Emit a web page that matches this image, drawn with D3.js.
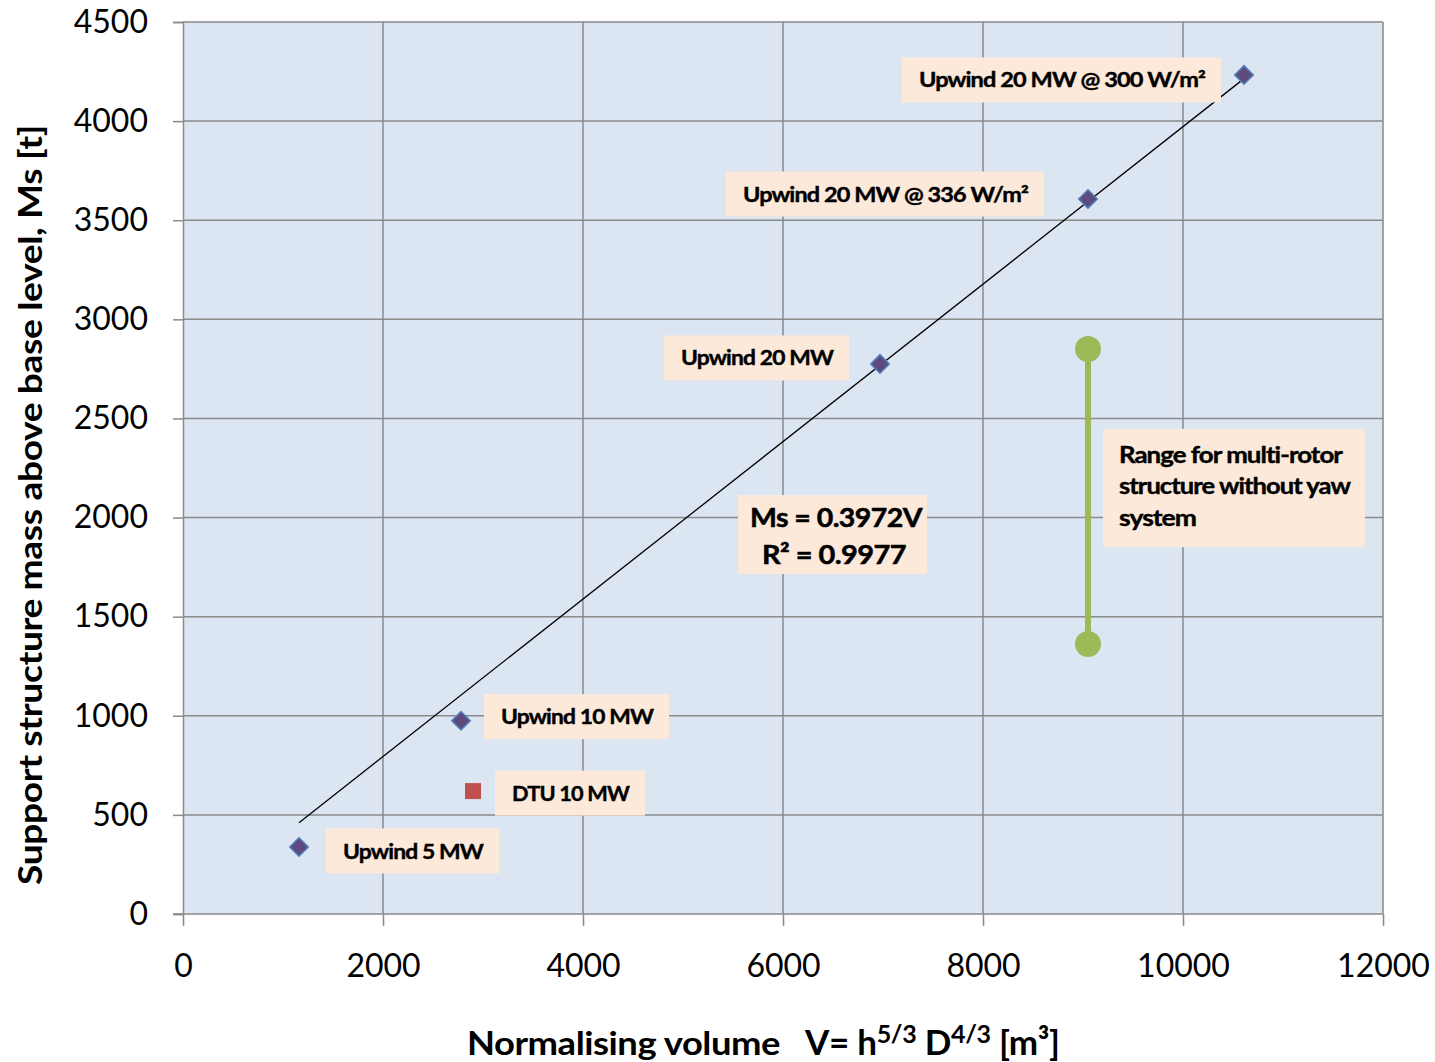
<!DOCTYPE html>
<html><head><meta charset="utf-8">
<script src="https://cdn.jsdelivr.net/npm/d3@7"></script>
<style>body{margin:0;background:#fff;} svg{display:block;font-family:Lato,"Open Sans",sans-serif;}</style>
</head><body>
<svg id="chart" width="1435" height="1062"></svg>
<script>
// ---- data ----
const upwindNames = ["Upwind 5 MW","Upwind 10 MW","Upwind 20 MW","Upwind 20 MW @ 336 W/m²","Upwind 20 MW @ 300 W/m²"];
const upwindVolume = [1160, 2780, 6970, 9050, 10610];
const upwindMass = [338, 975, 2775, 3607, 4233];
const dtuNames = ["DTU 10 MW"];
const dtuVolume = [2900];
const dtuMass = [620];
const trendSlope = 0.3972;
const trendR2 = 0.9977;
const rangeVolume = 9050;
const rangeMass = [1362, 2850];
const rangeText = ["Range for multi-rotor","structure without yaw","system"];
const xTicks = [0,2000,4000,6000,8000,10000,12000];
const yTicks = [0,500,1000,1500,2000,2500,3000,3500,4000,4500];

// ---- layout ----
const svg = d3.select("#chart");
const L=183, R=1383, T=22, B=914;
const x = d3.scaleLinear().domain([0,12000]).range([L,R]);
const y = d3.scaleLinear().domain([0,4500]).range([B,T]);
const gridCol="#8a8a8a";
const heavy = "bold";

svg.append("rect").attr("x",L).attr("y",T).attr("width",R-L).attr("height",B-T).attr("fill","#dce6f2");

// grid
svg.append("g").selectAll("line").data(xTicks.slice(1)).join("line")
  .attr("x1",d=>x(d)).attr("x2",d=>x(d)).attr("y1",T).attr("y2",B)
  .attr("stroke",gridCol).attr("stroke-width",1.5);
svg.append("g").selectAll("line").data(yTicks.slice(1)).join("line")
  .attr("x1",L).attr("x2",R).attr("y1",d=>y(d)).attr("y2",d=>y(d))
  .attr("stroke",gridCol).attr("stroke-width",1.5);

// axes
const xAxis = svg.append("g").attr("transform",`translate(0,${B})`)
  .call(d3.axisBottom(x).tickValues(xTicks).tickSize(12).tickPadding(28).tickFormat(d3.format("d")));
const yAxis = svg.append("g").attr("transform",`translate(${L},0)`)
  .call(d3.axisLeft(y).tickValues(yTicks).tickSize(10).tickPadding(25).tickFormat(d3.format("d")));
[xAxis,yAxis].forEach(a=>{
  a.select(".domain").attr("stroke",gridCol).attr("stroke-width",1.5);
  a.selectAll(".tick line").attr("stroke",gridCol).attr("stroke-width",1.5);
  a.selectAll("text").attr("fill","#000").style("font-size","32px").style("font-family","Lato");
});
xAxis.select(".domain").attr("d",`M${L-10},0H${R}`);

// trend line
const vMin = d3.min(upwindVolume), vMax = d3.max(upwindVolume);
svg.append("line").attr("x1",x(vMin)).attr("y1",y(trendSlope*vMin))
  .attr("x2",x(vMax)).attr("y2",y(trendSlope*vMax)).attr("stroke","#000").attr("stroke-width",1.3);

// range bar
svg.append("line").attr("x1",x(rangeVolume)).attr("x2",x(rangeVolume))
  .attr("y1",y(rangeMass[0])).attr("y2",y(rangeMass[1])).attr("stroke","#9bbb59").attr("stroke-width",6);
svg.append("g").selectAll("circle").data(rangeMass).join("circle")
  .attr("cx",x(rangeVolume)).attr("cy",d=>y(d)).attr("r",13).attr("fill","#9bbb59");

// markers
const upwind = upwindNames.map((n,i)=>({name:n,v:upwindVolume[i],m:upwindMass[i]}));
svg.append("g").selectAll("path").data(upwind).join("path")
  .attr("d",d3.symbol(d3.symbolDiamond2,220)())
  .attr("transform",d=>`translate(${x(d.v)},${y(d.m)})`)
  .attr("fill","#5f4a7f").attr("stroke","#4f81bd").attr("stroke-width",1.5);
const dtu = dtuNames.map((n,i)=>({name:n,v:dtuVolume[i],m:dtuMass[i]}));
svg.append("g").selectAll("rect").data(dtu).join("rect")
  .attr("x",d=>x(d.v)-8).attr("y",d=>y(d.m)-8).attr("width",16).attr("height",16)
  .attr("fill","#c0504d");

// labels: offsets from point (text start dx, center dy)
const labelOffsets = [[44,4],[40,-4],[-199,-6],[-345,-5],[-325,5]];
const labelWidths = [140,152,152,285,286];
const labelFill="#fde9d9";
function addLabel(px,py,dx,dy,txt,w){
  const g = svg.append("g");
  const tx=px+dx, ty=py+dy;
  g.append("rect").attr("x",tx-17).attr("y",ty-22.5).attr("width",w+33).attr("height",45).attr("fill",labelFill);
  g.append("text").attr("x",tx).attr("y",ty).attr("dy","0.36em")
    .attr("font-weight",heavy).attr("font-size",21).attr("letter-spacing",-0.8)
    .attr("stroke","#000").attr("stroke-width",0.4)
    .attr("textLength",w).attr("lengthAdjust","spacingAndGlyphs").text(txt);
}
upwind.forEach((d,i)=>addLabel(x(d.v),y(d.m),labelOffsets[i][0],labelOffsets[i][1],d.name,labelWidths[i]));
dtu.forEach(d=>addLabel(x(d.v),y(d.m),39,2,d.name,117));

// equation box
svg.append("rect").attr("x",738).attr("y",495).attr("width",189).attr("height",79).attr("fill",labelFill);
const eq = svg.append("text").attr("font-weight",heavy).attr("font-size",26).attr("letter-spacing",-0.5)
  .attr("stroke","#000").attr("stroke-width",0.5);
eq.append("tspan").attr("x",750).attr("y",527).attr("textLength",172).attr("lengthAdjust","spacingAndGlyphs").text(`Ms = ${trendSlope}V`);
eq.append("tspan").attr("x",762).attr("y",564).attr("textLength",144).attr("lengthAdjust","spacingAndGlyphs").text(`R² = ${trendR2}`);

// range box
const rangeWidths = [223,231,77];
svg.append("rect").attr("x",1103).attr("y",429).attr("width",262).attr("height",118).attr("fill",labelFill);
svg.append("g").selectAll("text").data(rangeText).join("text")
  .attr("x",1119).attr("y",(d,i)=>455+i*31.5).attr("dy","0.36em")
  .attr("font-weight",heavy).attr("font-size",22).attr("letter-spacing",-0.8)
  .attr("stroke","#000").attr("stroke-width",0.4)
  .attr("textLength",(d,i)=>rangeWidths[i]).attr("lengthAdjust","spacingAndGlyphs").text(d=>d);

// axis titles
svg.append("text").attr("x",467).attr("y",1055)
  .attr("font-weight",heavy).attr("font-size",32).attr("letter-spacing",-0.4)
  .attr("textLength",313).attr("lengthAdjust","spacingAndGlyphs").text("Normalising volume");
const xt = svg.append("text").attr("x",805).attr("y",1055)
  .attr("font-weight",heavy).attr("font-size",35).attr("letter-spacing",-0.3);
xt.append("tspan").text("V= h");
xt.append("tspan").attr("dy",-12).attr("font-size",25).text("5/3");
xt.append("tspan").attr("dy",12).text(" D");
xt.append("tspan").attr("dy",-12).attr("font-size",25).text("4/3");
xt.append("tspan").attr("dy",12).text(" [m³]");

svg.append("text").attr("transform","translate(42,505) rotate(-90)").attr("text-anchor","middle")
  .attr("font-weight",heavy).attr("font-size",33).attr("letter-spacing",-0.3)
  .attr("textLength",760).attr("lengthAdjust","spacingAndGlyphs")
  .text("Support structure mass above base level, Ms [t]");
</script>
</body></html>
